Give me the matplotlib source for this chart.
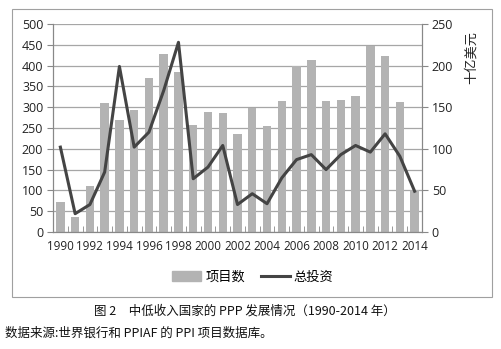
import numpy as np
import matplotlib.pyplot as plt
from matplotlib.patches import Rectangle
from matplotlib.lines import Line2D
from matplotlib.patches import Patch

plt.rcParams['font.family'] = ['Open Sans', 'Noto Sans CJK SC', 'DejaVu Sans']

years = list(range(1990, 2015))
projects = [72, 35, 111, 309, 270, 294, 369, 428, 385, 258, 289, 287, 235,
            299, 254, 315, 400, 413, 316, 318, 328, 446, 424, 313, 100]
investment = [102, 22, 33, 72, 199, 102, 120, 170, 228, 64, 78, 104, 33,
              46, 34, 65, 87, 93, 75, 93, 104, 96, 118, 91, 49]
year_labels = [str(y) if y % 2 == 0 else '' for y in years]

bar_color = '#b3b3b3'
line_color = '#444444'
grid_color = '#a6a6a6'

fig = plt.figure(figsize=(5.01, 3.49), dpi=100)
fig.patch.set_facecolor('white')

# outer chart frame
fig.patches.append(Rectangle((12 / 501, 1 - 297 / 349), 480 / 501, 288 / 349,
                             transform=fig.transFigure, fill=False,
                             edgecolor='#a0a0a0', linewidth=0.8))

ax = fig.add_axes([53 / 501, 1 - 232 / 349, 369 / 501, 208 / 349])
x = np.arange(len(years))
ax.bar(x, projects, width=0.57, color=bar_color, zorder=2)
ax.set_xlim(-0.5, len(years) - 0.5)
ax.set_ylim(0, 500)
ax.set_yticks(range(0, 501, 50))
ax.yaxis.grid(True, color=grid_color, linewidth=0.9, zorder=0)
ax.set_axisbelow(True)
ax.set_xticks(x)
ax.set_xticklabels(year_labels)
ax.set_xticks(np.arange(-0.5, len(years), 1), minor=True)
ax.tick_params(axis='x', which='major', length=0, pad=6, labelsize=8.4,
               colors='#222222')
ax.tick_params(axis='x', which='minor', length=4, direction='in',
               color='#888888')
ax.tick_params(axis='y', length=4, color='#888888', labelsize=9,
               colors='#222222', pad=3)
ax.spines['top'].set_visible(False)
for s in ['left', 'right', 'bottom']:
    ax.spines[s].set_color('#888888')

ax2 = ax.twinx()
ax2.plot(x, investment, color=line_color, linewidth=2.2, zorder=3)
ax2.set_ylim(0, 250)
ax2.set_yticks(range(0, 251, 50))
ax2.tick_params(axis='y', length=4, color='#888888', labelsize=9,
                colors='#222222', pad=3)
ax2.spines['top'].set_visible(False)
for s in ['left', 'right', 'bottom']:
    ax2.spines[s].set_color('#888888')

fig.text(471 / 501, 1 - 57 / 349, '十亿美元', rotation=90, ha='center',
         va='center', fontsize=9.5, family=['Noto Sans CJK SC'], color='#222222')

handles = [Patch(color=bar_color, label='项目数'),
           Line2D([0], [0], color=line_color, linewidth=2.2, label='总投资')]
fig.legend(handles=handles, loc='center', bbox_to_anchor=(253 / 501, 1 - 277 / 349),
           ncol=2, frameon=False, handlelength=2.2,
           handletextpad=0.3, columnspacing=1.2,
           prop={'family': ['Noto Sans CJK SC'], 'size': 9.5})

fig.text(245 / 501, 1 - 311 / 349, '图 2　中低收入国家的 PPP 发展情况（1990-2014 年）',
         ha='center', va='center', fontsize=9, family=['Noto Sans CJK SC'],
         color='#111111')
fig.text(5 / 501, 1 - 333 / 349, '数据来源:世界银行和 PPIAF 的 PPI 项目数据库。',
         ha='left', va='center', fontsize=9, family=['Noto Sans CJK SC'],
         color='#111111')

fig.savefig('out.png', dpi=100)
